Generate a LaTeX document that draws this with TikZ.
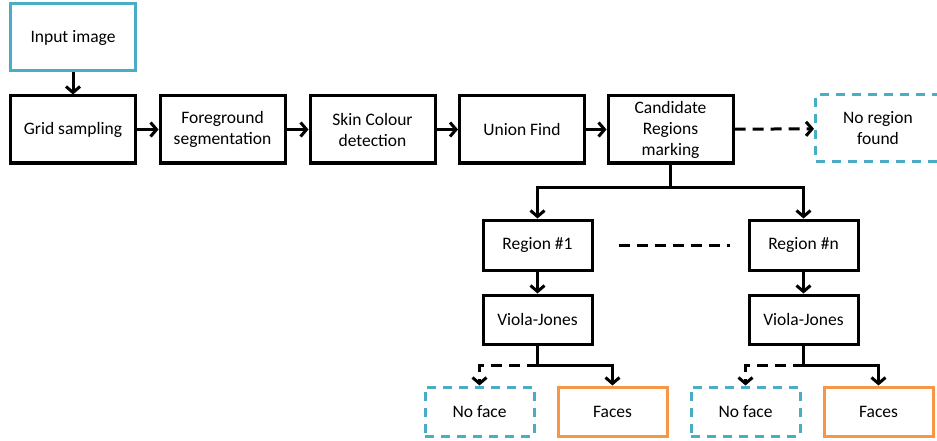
\documentclass[tikz,border=0pt]{standalone}
\usepackage{fontspec}
\setmainfont{Carlito}
\usetikzlibrary{arrows.meta}
\definecolor{cyanb}{HTML}{4BACC6}
\definecolor{orangeb}{HTML}{F79646}
\tikzset{
  box/.style={draw=black, line width=3pt, rectangle, align=center, inner sep=0pt,
    font=\fontsize{17.5}{21}\selectfont},
  cbox/.style={box, draw=cyanb},
  dcbox/.style={box, draw=cyanb, dash pattern=on 9pt off 7pt},
  obox/.style={box, draw=orangeb},
  big/.style={minimum width=125pt, minimum height=67pt},
  small/.style={minimum width=109pt, minimum height=49pt},
  conn/.style={line width=3pt, -{Straight Barb[length=6pt,width=14pt,line width=3pt]}},
  line/.style={line width=3pt},
  dsh/.style={dash pattern=on 11pt off 7pt}
}
\begin{document}
\begin{tikzpicture}[x=1pt,y=-1pt]
\useasboundingbox (0,0) rectangle (937,441);
\node[cbox,big] (in) at (73,37.5) {Input image};
\node[box,big] (grid) at (73,129.5) {Grid sampling};
\node[box,big] (fg) at (222.5,129.5) {Foreground\\segmentation};
\node[box,big] (skin) at (372.5,129.5) {Skin Colour\\detection};
\node[box,big] (uf) at (522,129.5) {Union Find};
\node[box,big] (cand) at (670.5,129.5) {Candidate\\Regions\\marking};
\node[dcbox,big] (nr) at (878,128.5) {No region\\found};
\node[box,small,minimum height=50pt] (r1) at (537.5,245) {Region \#1};
\node[box,small,minimum height=50pt] (rn) at (803.5,245) {Region \#n};
\node[box,small] (vj1) at (537.5,319.5) {Viola-Jones};
\node[box,small] (vjn) at (803.5,319.5) {Viola-Jones};
\node[dcbox,small] (nf1) at (479.5,411.5) {No face};
\node[obox,small] (fa1) at (612.5,411.5) {Faces};
\node[dcbox,small] (nfn) at (745.5,411.5) {No face};
\node[obox,small] (fan) at (878.5,411.5) {Faces};
\coordinate (bar) at (0,187);
\coordinate (b1) at (537.5,365);
\coordinate (bn) at (803.5,365);
\draw[conn] (in) -- (grid);
\draw[conn] (grid) -- (fg);
\draw[conn] (fg) -- (skin);
\draw[conn] (skin) -- (uf);
\draw[conn] (uf) -- (cand);
\draw[conn,dsh] (cand) -- (nr);
\draw[line] (cand.south) -- (cand.south |- bar);
\draw[conn] (cand.south |- bar) -| (r1.north);
\draw[conn] (cand.south |- bar) -| (rn.north);
\draw[line,dsh] ([xshift=25pt]r1.east) -- ([xshift=-18pt]rn.west);
\draw[conn] (r1) -- (vj1);
\draw[conn] (rn) -- (vjn);
\draw[line] (vj1.south) -- (b1);
\draw[line] (vjn.south) -- (bn);
\draw[conn,dsh] (b1) -| (nf1.north);
\draw[conn] (b1) -| (fa1.north);
\draw[conn,dsh] (bn) -| (nfn.north);
\draw[conn] (bn) -| (fan.north);
\end{tikzpicture}
\end{document}
